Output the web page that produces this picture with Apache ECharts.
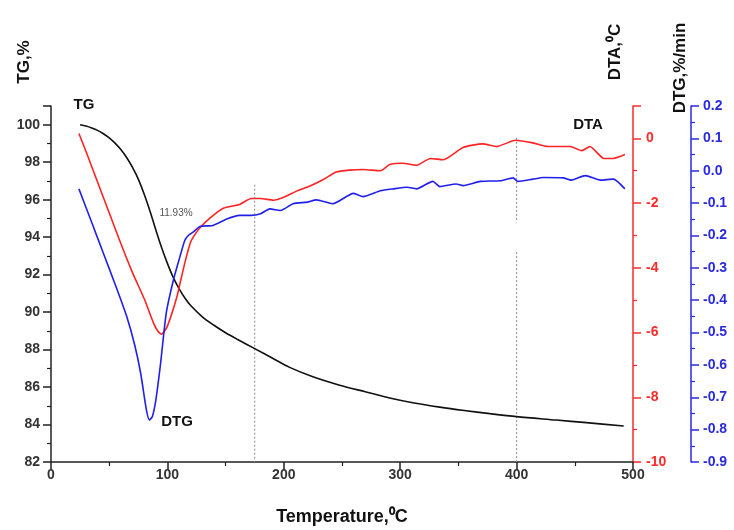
<!DOCTYPE html>
<html><head><meta charset="utf-8">
<script src="https://cdn.jsdelivr.net/npm/echarts@6/dist/echarts.min.js"></script>
<style>html,body{margin:0;padding:0;background:#fff}#c{width:734px;height:530px}</style>
</head><body><div id="c"></div>
<script>
// ---- data ----
const tgTemp = [25, 30, 35, 40, 45, 50, 55, 60, 65, 70, 75, 80, 85, 90, 95, 100, 105, 110, 115, 120, 130, 140, 150, 160, 175, 190, 205, 225, 248, 270, 291, 312, 334, 355, 377, 400, 434, 460, 492];
const tgVal  = [100.0, 99.93, 99.83, 99.7, 99.52, 99.3, 99.02, 98.68, 98.25, 97.72, 97.1, 96.3, 95.4, 94.4, 93.45, 92.6, 91.85, 91.25, 90.75, 90.35, 89.75, 89.3, 88.9, 88.55, 88.05, 87.55, 87.05, 86.55, 86.1, 85.75, 85.42, 85.15, 84.93, 84.75, 84.58, 84.42, 84.24, 84.1, 83.92];

const dtaTemp = [24, 30, 40, 50, 60, 70, 80, 88, 92, 95, 100, 108, 112, 116, 120, 124, 128, 137, 148, 162, 172, 180, 191, 200, 211, 222, 234, 245, 257, 268, 283, 291, 302, 314, 326, 337, 354, 371, 383, 399, 414, 427, 446, 456, 463, 475, 483, 493];
const dtaVal  = [0.15, -0.4, -1.35, -2.3, -3.25, -4.15, -4.95, -5.7, -5.97, -6.05, -5.8, -4.92, -4.3, -3.7, -3.2, -2.95, -2.76, -2.45, -2.16, -2.04, -1.86, -1.86, -1.91, -1.82, -1.63, -1.48, -1.27, -1.04, -0.98, -0.96, -1.0, -0.81, -0.77, -0.83, -0.62, -0.66, -0.28, -0.17, -0.25, -0.06, -0.14, -0.25, -0.25, -0.38, -0.25, -0.62, -0.62, -0.5];

const dtgTemp = [24, 35, 45, 55, 65, 72, 77, 82, 84.5, 87, 90, 94, 99, 105, 110, 115, 118, 122, 128, 139, 151, 162, 172, 180, 188, 197, 208, 220, 228, 242, 260, 268, 283, 294, 306, 314, 328, 334, 348, 354, 369, 386, 397, 401, 414, 423, 440, 447, 459, 472, 483, 493];
const dtgVal  = [-0.056, -0.16, -0.255, -0.35, -0.45, -0.54, -0.625, -0.74, -0.77, -0.76, -0.71, -0.6, -0.44, -0.34, -0.275, -0.215, -0.2, -0.19, -0.172, -0.169, -0.149, -0.138, -0.138, -0.133, -0.118, -0.123, -0.102, -0.097, -0.09, -0.102, -0.07, -0.08, -0.062, -0.056, -0.051, -0.056, -0.033, -0.049, -0.041, -0.046, -0.033, -0.031, -0.022, -0.033, -0.026, -0.021, -0.022, -0.029, -0.015, -0.029, -0.026, -0.056];

// dotted guide lines: [temperature, TG from, TG to]
const guideLines = [[175, 96.8, 82], [400, 99.3, 94.8], [400, 93.2, 82]];

const xTicks = [0, 100, 200, 300, 400, 500];

const zip = (a, b) => a.map((t, i) => [t, b[i]]);
const FONT = '"Liberation Sans", Arial, sans-serif';

const chart = echarts.init(document.getElementById('c'), null, {renderer: 'canvas'});

const guideSeries = guideLines.map(g => ({
  type: 'line', yAxisIndex: 0, symbol: 'none', silent: true,
  data: [[g[0], g[1]], [g[0], g[2]]],
  lineStyle: {color: '#8a8a8a', width: 1, type: [2, 2]}
}));

function axisCommon(color) {
  return {
    axisLine: {show: true, onZero: false, lineStyle: {color: color, width: 1.5}},
    axisTick: {show: true, inside: false, length: 8, lineStyle: {color: color, width: 1.5}},
    minorTick: {show: true, splitNumber: 2, length: 4, lineStyle: {color: color, width: 1.2}},
    splitLine: {show: false}
  };
}

const option = {
  animation: false,
  backgroundColor: '#fff',
  grid: {left: 51, right: 101, top: 106, bottom: 68, containLabel: false},
  xAxis: Object.assign(axisCommon('#222'), {
    type: 'value', min: 0, max: 500, interval: 100,
    axisLabel: {color: '#333', fontFamily: FONT, fontWeight: 'bold', fontSize: 14, margin: 6,
      formatter: v => xTicks.includes(v) ? String(v) : ''}
  }),
  yAxis: [
    Object.assign(axisCommon('#222'), {
      type: 'value', position: 'left', min: 82, max: 101, interval: 2,
      axisLabel: {color: '#333', fontFamily: FONT, fontWeight: 'bold', fontSize: 14, margin: 11, showMaxLabel: false}
    }),
    Object.assign(axisCommon('#ff2a2a'), {
      type: 'value', position: 'right', offset: 0, min: -10, max: 1, interval: 2,
      axisLabel: {color: '#ff2a2a', fontFamily: FONT, fontWeight: 'bold', fontSize: 14, margin: 13, showMaxLabel: false}
    }),
    Object.assign(axisCommon('#2a2ae0'), {
      type: 'value', position: 'right', offset: 58, min: -0.9, max: 0.2, interval: 0.1,
      axisLabel: {color: '#2a2ae0', fontFamily: FONT, fontWeight: 'bold', fontSize: 14, margin: 12,
        formatter: v => Math.abs(v) < 1e-9 ? '0.0' : v.toFixed(1)}
    })
  ],
  series: [
    ...guideSeries,
    {type: 'line', name: 'TG', yAxisIndex: 0, symbol: 'none', smooth: 0.3,
     data: zip(tgTemp, tgVal), lineStyle: {color: '#111', width: 1.6}},
    {type: 'line', name: 'DTA', yAxisIndex: 1, symbol: 'none', smooth: 0.2,
     data: zip(dtaTemp, dtaVal), lineStyle: {color: '#f22', width: 1.6}},
    {type: 'line', name: 'DTG', yAxisIndex: 2, symbol: 'none', smooth: 0.2,
     data: zip(dtgTemp, dtgVal), lineStyle: {color: '#2020e8', width: 1.6}}
  ],
  graphic: [
    {type: 'text', x: 24, y: 62, rotation: Math.PI / 2,
     style: {text: 'TG,%', font: 'bold 17px ' + FONT, fill: '#111', align: 'center', verticalAlign: 'middle'}},
    {type: 'text', x: 615, y: 52, rotation: Math.PI / 2,
     style: {text: 'DTA,⁰C', font: 'bold 17px ' + FONT, fill: '#111', align: 'center', verticalAlign: 'middle'}},
    {type: 'text', x: 680, y: 68, rotation: Math.PI / 2,
     style: {text: 'DTG,%/min', font: 'bold 17px ' + FONT, fill: '#111', align: 'center', verticalAlign: 'middle'}},
    {type: 'text', x: 342, y: 517,
     style: {text: 'Temperature,⁰C', font: 'bold 18px ' + FONT, fill: '#111', align: 'center', verticalAlign: 'middle'}},
    {type: 'text', x: 84, y: 105,
     style: {text: 'TG', font: 'bold 15px ' + FONT, fill: '#111', align: 'center', verticalAlign: 'middle'}},
    {type: 'text', x: 588, y: 125,
     style: {text: 'DTA', font: 'bold 15px ' + FONT, fill: '#111', align: 'center', verticalAlign: 'middle'}},
    {type: 'text', x: 177, y: 422,
     style: {text: 'DTG', font: 'bold 15px ' + FONT, fill: '#111', align: 'center', verticalAlign: 'middle'}},
    {type: 'text', x: 176, y: 213,
     style: {text: '11.93%', font: '10px ' + FONT, fill: '#555', align: 'center', verticalAlign: 'middle'}}
  ]
};
chart.setOption(option);
</script>
</body></html>
